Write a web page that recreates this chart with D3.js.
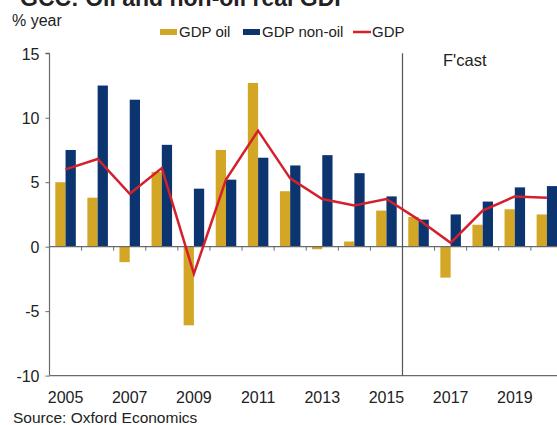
<!DOCTYPE html>
<html>
<head>
<meta charset="utf-8">
<script src="https://cdn.jsdelivr.net/npm/d3@7"></script>
<style>
  html, body { margin: 0; padding: 0; background: #fff; overflow: hidden; }
  svg { display: block; font-family: "Liberation Sans", Arial, sans-serif; }
</style>
</head>
<body>
<svg id="chart" width="557" height="425"></svg>
<script>
// GCC real GDP growth, % year (forecast from 2016)
const years = d3.range(2005, 2021);
const gdpOil    = [5.0, 3.8, -1.2, 5.8, -6.1, 7.5, 12.7, 4.3, -0.2, 0.4, 2.8, 2.3, -2.4, 1.7, 2.9, 2.5];
const gdpNonOil = [7.5, 12.5, 11.4, 7.9, 4.5, 5.2, 6.9, 6.3, 7.1, 5.7, 3.9, 2.1, 2.5, 3.5, 4.6, 4.7];
const gdpTotal  = [6.0, 6.8, 4.1, 6.1, -2.1, 5.2, 9.0, 5.3, 3.7, 3.2, 3.7, 2.1, 0.3, 2.8, 3.9, 3.8];
const yTicks = [-10, -5, 0, 5, 10, 15];
const yearLabels = [2005, 2007, 2009, 2011, 2013, 2015, 2017, 2019];
const forecastStart = 2016;

const colors = { oil: "#d4a626", nonOil: "#0c3570", gdp: "#d4202c", axis: "#6a6a6a" };

const svg = d3.select("#chart");
const left = 49.5;

const x = d3.scaleBand().domain(years).range([left, left + 16 * 32.09]).padding(0);
const y = d3.scaleLinear().domain([-10, 15]).range([375.6, 53.3]);
const bw = x.bandwidth();
const barW = bw * 0.32;
const barOff = bw / 2 - barW;

// Title (runs off the top edge)
svg.append("text").attr("x", 20).attr("y", 6)
  .attr("font-size", 23).attr("font-weight", "bold").attr("fill", "#222")
  .text("GCC: Oil and non-oil real GDP");

// Unit label
svg.append("text").attr("x", 12).attr("y", 26).attr("font-size", 16).attr("fill", "#222").text("% year");

// Legend
const lg = svg.append("g").attr("font-size", 15).attr("fill", "#222");
lg.append("rect").attr("x", 160).attr("y", 29).attr("width", 17).attr("height", 6).attr("fill", colors.oil);
lg.append("text").attr("x", 179).attr("y", 37).text("GDP oil");
lg.append("rect").attr("x", 243).attr("y", 29).attr("width", 17).attr("height", 6).attr("fill", colors.nonOil);
lg.append("text").attr("x", 262).attr("y", 37).text("GDP non-oil");
lg.append("line").attr("x1", 353).attr("x2", 371).attr("y1", 32).attr("y2", 32)
  .attr("stroke", colors.gdp).attr("stroke-width", 2.5);
lg.append("text").attr("x", 372).attr("y", 37).text("GDP");

// Bars
const rows = years.map((yr, i) => ({ yr, oil: gdpOil[i], non: gdpNonOil[i], gdp: gdpTotal[i] }));
svg.append("g").selectAll("rect").data(rows).join("rect")
  .attr("x", d => x(d.yr) + barOff).attr("width", barW)
  .attr("y", d => y(Math.max(0, d.oil))).attr("height", d => Math.abs(y(d.oil) - y(0)))
  .attr("fill", colors.oil);
svg.append("g").selectAll("rect").data(rows).join("rect")
  .attr("x", d => x(d.yr) + barOff + barW).attr("width", barW)
  .attr("y", d => y(Math.max(0, d.non))).attr("height", d => Math.abs(y(d.non) - y(0)))
  .attr("fill", colors.nonOil);

// Zero line with category ticks
svg.append("line").attr("x1", left).attr("x2", 557).attr("y1", y(0)).attr("y2", y(0))
  .attr("stroke", colors.axis).attr("stroke-width", 1.2);
svg.append("g").selectAll("line").data(years.slice(1)).join("line")
  .attr("x1", d => x(d)).attr("x2", d => x(d)).attr("y1", y(0)).attr("y2", y(0) + 4)
  .attr("stroke", colors.axis).attr("stroke-width", 1);

// Bottom baseline
svg.append("line").attr("x1", left).attr("x2", 557).attr("y1", y(-10)).attr("y2", y(-10))
  .attr("stroke", colors.axis).attr("stroke-width", 1.2);

// Forecast divider
svg.append("line").attr("x1", x(forecastStart)).attr("x2", x(forecastStart))
  .attr("y1", y(15)).attr("y2", y(-10)).attr("stroke", "#555").attr("stroke-width", 1.2);
svg.append("text").attr("x", 443).attr("y", 66).attr("font-size", 16.5).attr("fill", "#222").text("F'cast");

// GDP line
const line = d3.line().x(d => x(d.yr) + bw / 2).y(d => y(d.gdp));
svg.append("path").datum(rows).attr("d", line)
  .attr("fill", "none").attr("stroke", colors.gdp).attr("stroke-width", 2.5).attr("stroke-linejoin", "miter");

// Y axis
const yAxis = d3.axisLeft(y).tickValues(yTicks).tickSize(4).tickPadding(6).tickFormat(d => String(d));
const ga = svg.append("g").attr("transform", `translate(${left},0)`).call(yAxis);
ga.select(".domain").attr("stroke", colors.axis).attr("stroke-width", 1.2).attr("d", `M-4,${y(15)}H0V${y(-10)}`);
ga.selectAll(".tick line").attr("stroke", colors.axis);
ga.selectAll(".tick text").attr("font-size", 16).attr("fill", "#222")
  .attr("font-family", "Liberation Sans, Arial, sans-serif").attr("dy", "0.36em");

// Year labels
svg.append("g").selectAll("text").data(yearLabels).join("text")
  .attr("x", d => x(d) + bw / 2).attr("y", 403).attr("text-anchor", "middle")
  .attr("font-size", 16).attr("fill", "#222").text(d => d);

// Source
svg.append("text").attr("x", 13).attr("y", 423).attr("font-size", 15.5).attr("fill", "#222")
  .text("Source: Oxford Economics");
</script>
</body>
</html>
